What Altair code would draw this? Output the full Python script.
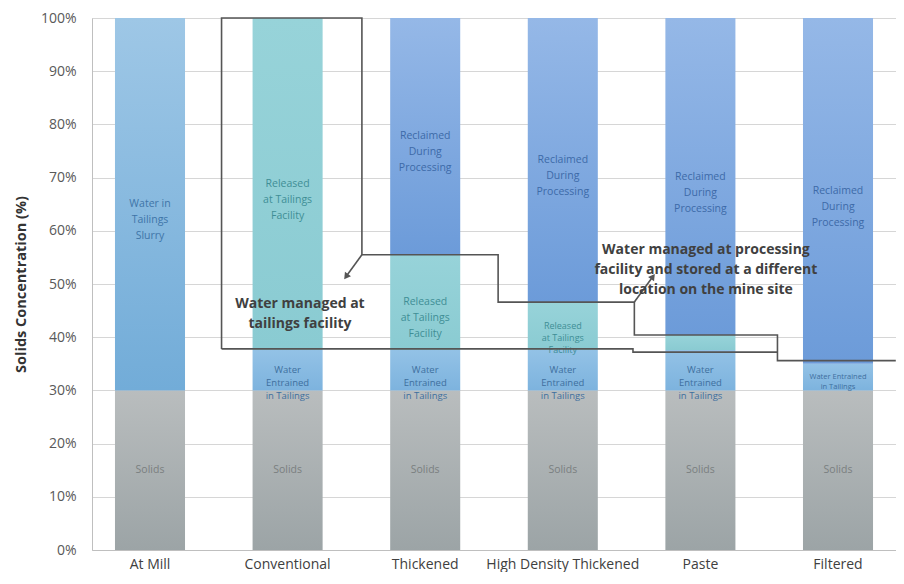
import math
import altair as alt
import pandas as pd

# ---------------- data ----------------
categories = ["At Mill", "Conventional", "Thickened", "High Density Thickened", "Paste", "Filtered"]
series = ["Solids", "Water Entrained in Tailings", "Released at Tailings Facility",
          "Reclaimed During Processing", "Water in Tailings Slurry"]

solids = [30, 30, 30, 30, 30, 30]
entrained = [0, 7.6, 7.6, 7.6, 7.6, 5.0]
released = [0, 62.4, 17.9, 8.9, 2.8, 0]
reclaimed = [0, 0, 44.5, 53.5, 59.6, 65.0]
slurry = [70, 0, 0, 0, 0, 0]

solids_labels = ["Solids"] * 6
entrained_labels = ["", "Water\nEntrained\nin Tailings", "Water\nEntrained\nin Tailings",
                    "Water\nEntrained\nin Tailings", "Water\nEntrained\nin Tailings",
                    "Water Entrained\nin Tailings"]
released_labels = ["", "Released\nat Tailings\nFacility", "Released\nat Tailings\nFacility",
                   "Released\nat Tailings\nFacility", "", ""]
reclaimed_labels = ["", "", "Reclaimed\nDuring\nProcessing", "Reclaimed\nDuring\nProcessing",
                    "Reclaimed\nDuring\nProcessing", "Reclaimed\nDuring\nProcessing"]
slurry_labels = ["Water in\nTailings\nSlurry", "", "", "", "", ""]

# annotation outlines, x in category units (0 = first category), y in %
upper_path_x = [0.52, 0.52, 1.54, 1.54, 2.53, 2.53, 3.52, 3.52, 4.56, 4.56, 5.42]
upper_path_y = [37.8, 100, 100, 55.5, 55.5, 46.6, 46.6, 40.4, 40.4, 35.6, 35.6]
lower_path_x = [0.52, 3.51, 3.51, 4.56]
lower_path_y = [37.8, 37.8, 37.2, 37.2]
arrow_from_x = [1.54, 3.52]
arrow_from_y = [55.5, 46.6]
arrow_to_x = [1.425, 3.655]
arrow_to_y = [51.4, 51.4]

note_texts = ["Water managed at\ntailings facility",
              "Water managed at processing\nfacility and stored at a different\nlocation on the mine site"]
note_x = [1.09, 4.04]
note_y = [46.2, 56.4]

# ---------------- layout ----------------
W, H = 804, 532
P_IN, P_OUT = 0.491, 0.167
STEP = W / (len(categories) - P_IN + 2 * P_OUT)
HALF = P_OUT + (1 - P_IN) / 2
PX_PER_PCT = H / 100.0
FONT = "Open Sans"

# ---------------- tables ----------------
values = {
    "Solids": (solids, solids_labels),
    "Water Entrained in Tailings": (entrained, entrained_labels),
    "Released at Tailings Facility": (released, released_labels),
    "Reclaimed During Processing": (reclaimed, reclaimed_labels),
    "Water in Tailings Slurry": (slurry, slurry_labels),
}
rows = []
for i, c in enumerate(categories):
    start = 0.0
    for s in series:
        v = values[s][0][i]
        lab = values[s][1][i]
        if v > 0:
            end = start + v
            rows.append({"category": c, "series": s, "start": start, "end": end,
                         "mid": (start + end) / 2, "span": v, "label": lab})
            start = end
df = pd.DataFrame(rows)

lines = []
for k, (px, py) in enumerate(zip(upper_path_x, upper_path_y)):
    lines.append({"path": "upper", "idx": k, "u": px, "v": py})
for k, (px, py) in enumerate(zip(lower_path_x, lower_path_y)):
    lines.append({"path": "lower", "idx": k, "u": px, "v": py})
heads = []
for a in range(len(arrow_from_x)):
    lines.append({"path": f"arrow{a}", "idx": 0, "u": arrow_from_x[a], "v": arrow_from_y[a]})
    lines.append({"path": f"arrow{a}", "idx": 1, "u": arrow_to_x[a], "v": arrow_to_y[a]})
    dx = (arrow_to_x[a] - arrow_from_x[a]) * STEP
    dy = -(arrow_to_y[a] - arrow_from_y[a]) * PX_PER_PCT
    ang = math.degrees(math.atan2(dx, -dy)) % 360
    heads.append({"u": arrow_to_x[a], "v": arrow_to_y[a], "angle": ang})
df_lines = pd.DataFrame(lines)
df_heads = pd.DataFrame(heads)
df_notes = pd.DataFrame({"u": note_x, "v": note_y, "text": note_texts})

# ---------------- encodings ----------------
x_band = alt.X("category:N", sort=categories, title=None,
               scale=alt.Scale(domain=categories, paddingInner=P_IN, paddingOuter=P_OUT),
               axis=alt.Axis(labelAngle=0, ticks=False, domainColor="#bfbfbf", labelPadding=7,
                             labelFont=FONT, labelFontSize=14, labelColor="#404040", grid=False))
y_enc = alt.Y("start:Q", scale=alt.Scale(domain=[0, 100], nice=False),
              axis=alt.Axis(values=list(range(0, 101, 10)), labelExpr="datum.value + '%'",
                            title="Solids Concentration (%)", ticks=False, domainColor="#bfbfbf",
                            gridColor="#d6d6d6", labelPadding=16, labelFont=FONT, labelFontSize=14,
                            labelColor="#595959", titleFont=FONT, titleFontSize=14.5,
                            titleFontWeight="bold", titleColor="#333333", titlePadding=12))
x_cont = alt.X("u:Q", scale=alt.Scale(domain=[-HALF, len(categories) - 1 + HALF], nice=False, zero=False),
               axis=None)
y_cont = alt.Y("v:Q", scale=alt.Scale(domain=[0, 100], nice=False), axis=None)


def grad(top, bottom):
    return alt.Gradient(gradient="linear", x1=0, x2=0, y1=0, y2=1,
                        stops=[alt.GradientStop(color=top, offset=0),
                               alt.GradientStop(color=bottom, offset=1)])


fills = {
    "Solids": grad("#b9bdbe", "#9ca4a6"),
    "Water Entrained in Tailings": grad("#93c2e6", "#7db3de"),
    "Released at Tailings Facility": grad("#97d3d9", "#8acbd2"),
    "Reclaimed During Processing": grad("#95b8e7", "#6c9bd9"),
    "Water in Tailings Slurry": grad("#9ec7e6", "#72acd8"),
}
text_colors = {
    "Solids": "#7a7f80",
    "Water Entrained in Tailings": "#3e6f9e",
    "Released at Tailings Facility": "#3f8e95",
    "Reclaimed During Processing": "#3d6aa8",
    "Water in Tailings Slurry": "#3f75a8",
}

bar_layers = []
for s in series:
    bar_layers.append(
        alt.Chart(df).transform_filter(alt.datum.series == s)
        .mark_bar(color=fills[s], strokeWidth=0)
        .encode(x=x_band, y=y_enc, y2="end:Q")
    )

text_groups = [(0, 6, 7.5, 10), (6, 8, 9.5, 13), (8, 12, 9, 12), (12, 1000, 10.5, 16)]
for s in series:
    for lo, hi, fs, lh in text_groups:
        bar_layers.append(
            alt.Chart(df)
            .transform_filter((alt.datum.series == s) & (alt.datum.label != "")
                              & (alt.datum.span >= lo) & (alt.datum.span < hi))
            .mark_text(font=FONT, fontSize=fs, lineHeight=lh, lineBreak="\n",
                       color=text_colors[s], baseline="middle", align="center")
            .encode(x=x_band, y=alt.Y("mid:Q"), text="label:N")
        )

ann_lines = alt.Chart(df_lines).mark_line(color="#555555", strokeWidth=1.6).encode(
    x=x_cont, y=y_cont, detail="path:N", order="idx:Q")
ann_heads = alt.Chart(df_heads).mark_point(shape="triangle-up", filled=True, size=55,
                                           color="#555555", opacity=1).encode(
    x=x_cont, y=y_cont, angle=alt.Angle("angle:Q", scale=None))
ann_text = alt.Chart(df_notes).mark_text(font=FONT, fontSize=14, fontWeight="bold",
                                         lineBreak="\n", lineHeight=20, color="#404040",
                                         baseline="middle", align="center").encode(
    x=x_cont, y=y_cont, text="text:N")

bars = alt.layer(*bar_layers)
annotations = alt.layer(ann_lines, ann_heads, ann_text)

chart = (
    alt.layer(bars, annotations)
    .resolve_scale(x="independent", y="independent")
    .properties(width=W, height=H,
                padding={"left": 84, "top": 10, "right": 0, "bottom": 22},
                autosize=alt.AutoSizeParams(type="none"))
    .configure_view(stroke=None, fill="#f7f7f7")
    .configure(background="white")
)

chart.save("out.html", embed_options={"renderer": "svg", "actions": False})
